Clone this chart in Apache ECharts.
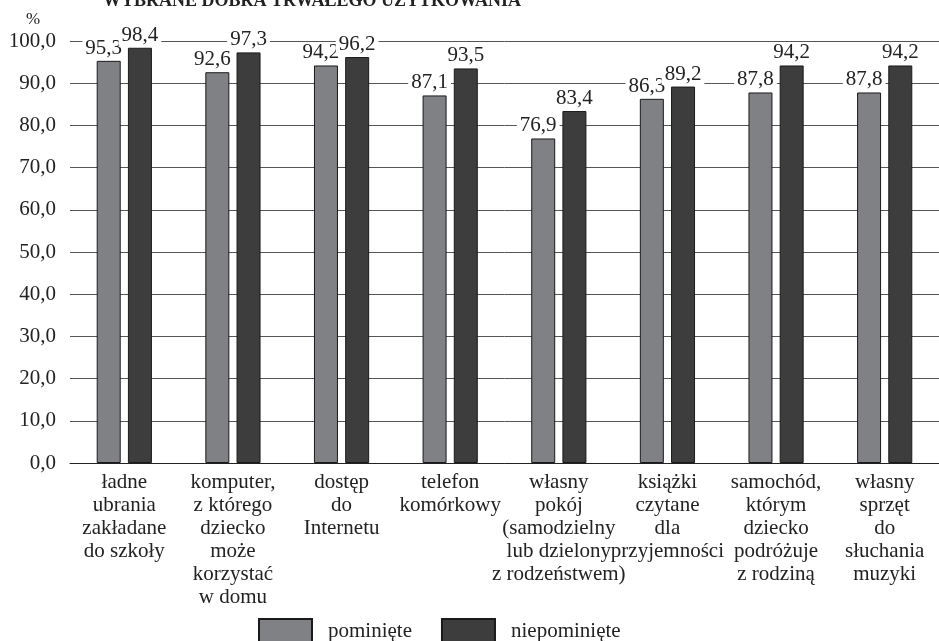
<!DOCTYPE html>
<html>
<head>
<meta charset="utf-8">
<script src="https://cdn.jsdelivr.net/npm/echarts@6/dist/echarts.min.js"></script>
<style>
html,body{margin:0;padding:0;background:#fff;}
#chart{width:939px;height:641px;}
</style>
</head>
<body>
<div id="chart"></div>
<script>
const titleText = 'WYBRANE DOBRA TRWAŁEGO UŻYTKOWANIA';
const categories = [
  'ładne\nubrania\nzakładane\ndo szkoły',
  'komputer,\nz którego\ndziecko\nmoże\nkorzystać\nw domu',
  'dostęp\ndo\nInternetu',
  'telefon\nkomórkowy',
  'własny\npokój\n(samodzielny\nlub dzielony\nz rodzeństwem)',
  'książki\nczytane\ndla\nprzyjemności',
  'samochód,\nktórym\ndziecko\npodróżuje\nz rodziną',
  'własny\nsprzęt\ndo\nsłuchania\nmuzyki'
];
const seriesNames = ['pominięte', 'niepominięte'];
const pominiete = [95.3, 92.6, 94.2, 87.1, 76.9, 86.3, 87.8, 87.8];
const niepominiete = [98.4, 97.3, 96.2, 93.5, 83.4, 89.2, 94.2, 94.2];
const yMin = 0, yMax = 100, yInterval = 10;

const FONT = "'Liberation Serif','Times New Roman',serif";
const fmt = v => Number(v).toFixed(1).replace('.', ',');

const chart = echarts.init(document.getElementById('chart'), null, {renderer: 'canvas'});
chart.setOption({
  backgroundColor: '#fff',
  animation: false,
  textStyle: {fontFamily: FONT, color: '#222'},
  graphic: [
    {type: 'text', left: 103, top: -8, style: {text: titleText, font: 'bold 18px ' + FONT, fill: '#222'}},
    {type: 'text', left: 26, top: 11, style: {text: '%', font: '17px ' + FONT, fill: '#222'}}
  ],
  grid: {left: 70, right: -7, top: 41, bottom: 178, containLabel: false},
  legend: {
    data: seriesNames,
    left: 258, top: 618, padding: 0,
    itemWidth: 53, itemHeight: 24, itemGap: 29,
    icon: 'rect',
    textStyle: {fontFamily: FONT, fontSize: 21, color: '#222', padding: [0, 0, 0, 11]}
  },
  xAxis: {
    type: 'category',
    data: categories,
    axisLine: {lineStyle: {color: '#222', width: 1}},
    axisTick: {show: false},
    axisLabel: {interval: 0, fontFamily: FONT, fontSize: 21, lineHeight: 23, color: '#222', margin: 8}
  },
  yAxis: {
    type: 'value',
    min: yMin, max: yMax, interval: yInterval,
    axisLine: {show: false},
    axisTick: {show: false},
    splitLine: {lineStyle: {color: '#555', width: 1}},
    axisLabel: {fontFamily: FONT, fontSize: 21, color: '#222', margin: 14, formatter: fmt}
  },
  series: [
    {
      name: seriesNames[0], type: 'bar', data: pominiete,
      barWidth: 24, barGap: '30%',
      itemStyle: {color: '#808184', borderColor: '#1a1a1a', borderWidth: 1},
      label: {show: true, position: 'top', distance: 2, offset: [-5, 0], formatter: p => fmt(p.value),
        fontFamily: FONT, fontSize: 21, color: '#222', backgroundColor: '#fff', padding: [0, 3]}
    },
    {
      name: seriesNames[1], type: 'bar', data: niepominiete,
      barWidth: 24, barGap: '30%',
      itemStyle: {color: '#3d3d3d', borderColor: '#1a1a1a', borderWidth: 1},
      label: {show: true, position: 'top', distance: 2, formatter: p => fmt(p.value),
        fontFamily: FONT, fontSize: 21, color: '#222', backgroundColor: '#fff', padding: [0, 3]}
    }
  ]
});
</script>
</body>
</html>
